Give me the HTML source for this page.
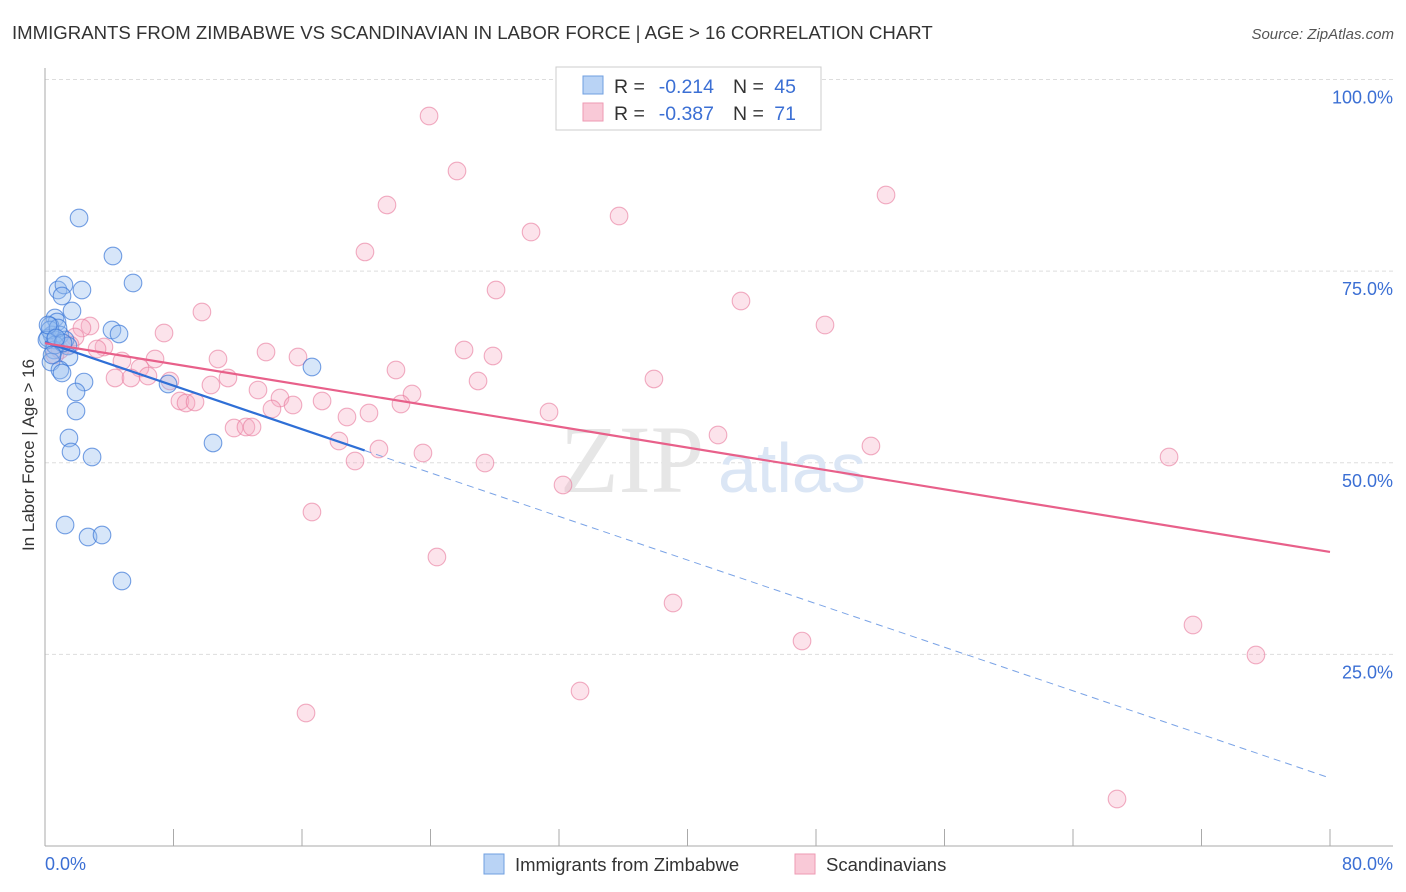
<!DOCTYPE html>
<html><head><meta charset="utf-8"><style>
body{margin:0;background:#fff;font-family:"Liberation Sans",sans-serif}
#c{position:absolute;left:0;top:0}
</style></head><body>
<svg id="c" width="1406" height="892">
<text x="12" y="39" font-size="18.6" fill="#333">IMMIGRANTS FROM ZIMBABWE VS SCANDINAVIAN IN LABOR FORCE | AGE &gt; 16 CORRELATION CHART</text>
<text x="1394" y="39" font-size="15" fill="#555" font-style="italic" text-anchor="end">Source: ZipAtlas.com</text>
<g id="grid"></g>
<text x="560" y="492" font-size="96" font-family="Liberation Serif,serif" fill="#e6e6e6">ZIP</text>
<text x="718" y="492" font-size="70" fill="#dbe6f5">atlas</text>
<g id="pts"></g>
<g id="lines"></g>
<text transform="translate(34,455) rotate(-90)" font-size="17" fill="#333" text-anchor="middle">In Labor Force | Age &gt; 16</text>
<text x="45" y="870" font-size="18" fill="#3b6fd4">0.0%</text>
<text x="1393" y="870" font-size="18" fill="#3b6fd4" text-anchor="end">80.0%</text>
<g>
<rect x="556" y="67" width="265" height="63" fill="#fff" stroke="#ccc"/>
<rect x="583" y="76" width="20" height="18" fill="#b9d3f5" stroke="#6f9fe0"/>
<rect x="583" y="103" width="20" height="18" fill="#f9c9d7" stroke="#ee9ab3"/>
<text x="614" y="93" font-size="19.5" fill="#333">R = </text>
<text x="714" y="93" font-size="19.5" fill="#3b6fd4" text-anchor="end">-0.214</text>
<text x="733" y="93" font-size="19.5" fill="#333">N =</text>
<text x="796" y="93" font-size="19.5" fill="#3b6fd4" text-anchor="end">45</text>
<text x="614" y="120" font-size="19.5" fill="#333">R = </text>
<text x="714" y="120" font-size="19.5" fill="#3b6fd4" text-anchor="end">-0.387</text>
<text x="733" y="120" font-size="19.5" fill="#333">N =</text>
<text x="796" y="120" font-size="19.5" fill="#3b6fd4" text-anchor="end">71</text>
</g>
<g>
<rect x="484" y="854" width="20" height="20" fill="#b9d3f5" stroke="#6f9fe0"/>
<text x="515" y="871" font-size="18.5" fill="#333">Immigrants from Zimbabwe</text>
<rect x="795" y="854" width="20" height="20" fill="#f9c9d7" stroke="#ee9ab3"/>
<text x="826" y="871" font-size="18.5" fill="#333">Scandinavians</text>
</g>
</svg>
<script>
const yTicks=[25,50,75,100];
const yTickLabels=["25.0%","50.0%","75.0%","100.0%"];
const xTicks=[0,8,16,24,32,40,48,56,64,72,80];
const bluePx=[[79,218],[113,256],[133,283],[58,290],[64,285],[82,290],[62,296],[72,311],[55,318],[57,322],[50,326],[112,330],[119,334],[52,335],[60,335],[48,338],[55,340],[65,340],[68,346],[54,350],[69,357],[51,362],[60,370],[62,373],[84,382],[76,392],[168,384],[312,367],[76,411],[69,438],[71,452],[92,457],[213,443],[65,525],[88,537],[102,535],[122,581],[50,330],[55,345],[47,340],[58,328],[63,343],[52,355],[48,325],[56,338]];
const pinkPx=[[429,116],[457,171],[886,195],[387,205],[619,216],[531,232],[365,252],[496,290],[741,301],[202,312],[825,325],[90,326],[82,328],[164,333],[75,337],[104,347],[97,349],[60,350],[266,352],[298,357],[493,356],[464,350],[218,359],[155,359],[122,361],[396,370],[140,368],[115,378],[131,378],[148,376],[170,381],[654,379],[478,381],[211,385],[228,378],[258,390],[412,394],[180,401],[186,403],[195,402],[322,401],[280,398],[401,404],[272,409],[293,405],[369,413],[347,417],[549,412],[234,428],[246,427],[252,427],[718,435],[339,441],[871,446],[379,449],[423,453],[355,461],[1169,457],[485,463],[563,485],[312,512],[437,557],[673,603],[1193,625],[802,641],[1256,655],[580,691],[306,713],[1117,799],[70,345],[55,355]];
const blueX=bluePx.map(p=>+((p[0]-45)/1285*80).toFixed(2));
const blueY=bluePx.map(p=>+((846-p[1])/7.665).toFixed(2));
const pinkX=pinkPx.map(p=>+((p[0]-45)/1285*80).toFixed(2));
const pinkY=pinkPx.map(p=>+((846-p[1])/7.665).toFixed(2));
const blueTrend=[65.75,8.87];
const pinkTrend=[65.6,38.36];
const NS="http://www.w3.org/2000/svg";
const sx=v=>45+v/80*1285, sy=v=>846-v*7.665;
function mk(t,a,p){const e=document.createElementNS(NS,t);for(const k in a)e.setAttribute(k,a[k]);p.appendChild(e);return e;}
const g=document.getElementById('grid');
yTicks.forEach((v,i)=>{
 const l=mk('line',{x1:45,x2:1393,y1:sy(v),y2:sy(v),stroke:'#ddd','stroke-dasharray':'4,3'},g);
 
 
 const t=mk('text',{x:1393,y:sy(v)+24,'font-size':18,fill:'#3b6fd4','text-anchor':'end'},g);
 t.textContent=yTickLabels[i];
 
 
});
const ax=mk('line',{x1:45,x2:45,y1:68,y2:846,stroke:'#aaa'},g);


const bx=mk('line',{x1:45,x2:1393,y1:846,y2:846,stroke:'#aaa'},g);


xTicks.forEach(v=>{
 const t=mk('line',{x1:sx(v),x2:sx(v),y1:829,y2:846,stroke:'#aaa'},g);
 
 
});
const pg=document.getElementById('pts');
pinkX.forEach((x,i)=>{
 const c=mk('circle',{cx:sx(x),cy:sy(pinkY[i]),r:8.8,fill:'rgba(246,170,195,0.33)',stroke:'rgba(232,120,155,0.6)','stroke-width':1.1},pg);
 
 
});
blueX.forEach((x,i)=>{
 const c=mk('circle',{cx:sx(x),cy:sy(blueY[i]),r:8.8,fill:'rgba(150,190,240,0.38)',stroke:'rgba(60,120,215,0.7)','stroke-width':1.1},pg);
 
 
});
const lg=document.getElementById('lines');
const bAt=x=>blueTrend[0]+(blueTrend[1]-blueTrend[0])*x/80;
const xs=19.9;
let l1=mk('line',{x1:sx(0),y1:sy(bAt(0)),x2:sx(xs),y2:sy(bAt(xs)),stroke:'#2f6fd6','stroke-width':2.2},lg);


let l2=mk('line',{x1:sx(xs),y1:sy(bAt(xs)),x2:sx(80),y2:sy(bAt(80)),stroke:'#7aa3e6','stroke-width':1,'stroke-dasharray':'7,5'},lg);


let l3=mk('line',{x1:sx(0),y1:sy(pinkTrend[0]),x2:sx(80),y2:sy(pinkTrend[1]),stroke:'#e8608a','stroke-width':2.2},lg);


</script>
</body></html>
